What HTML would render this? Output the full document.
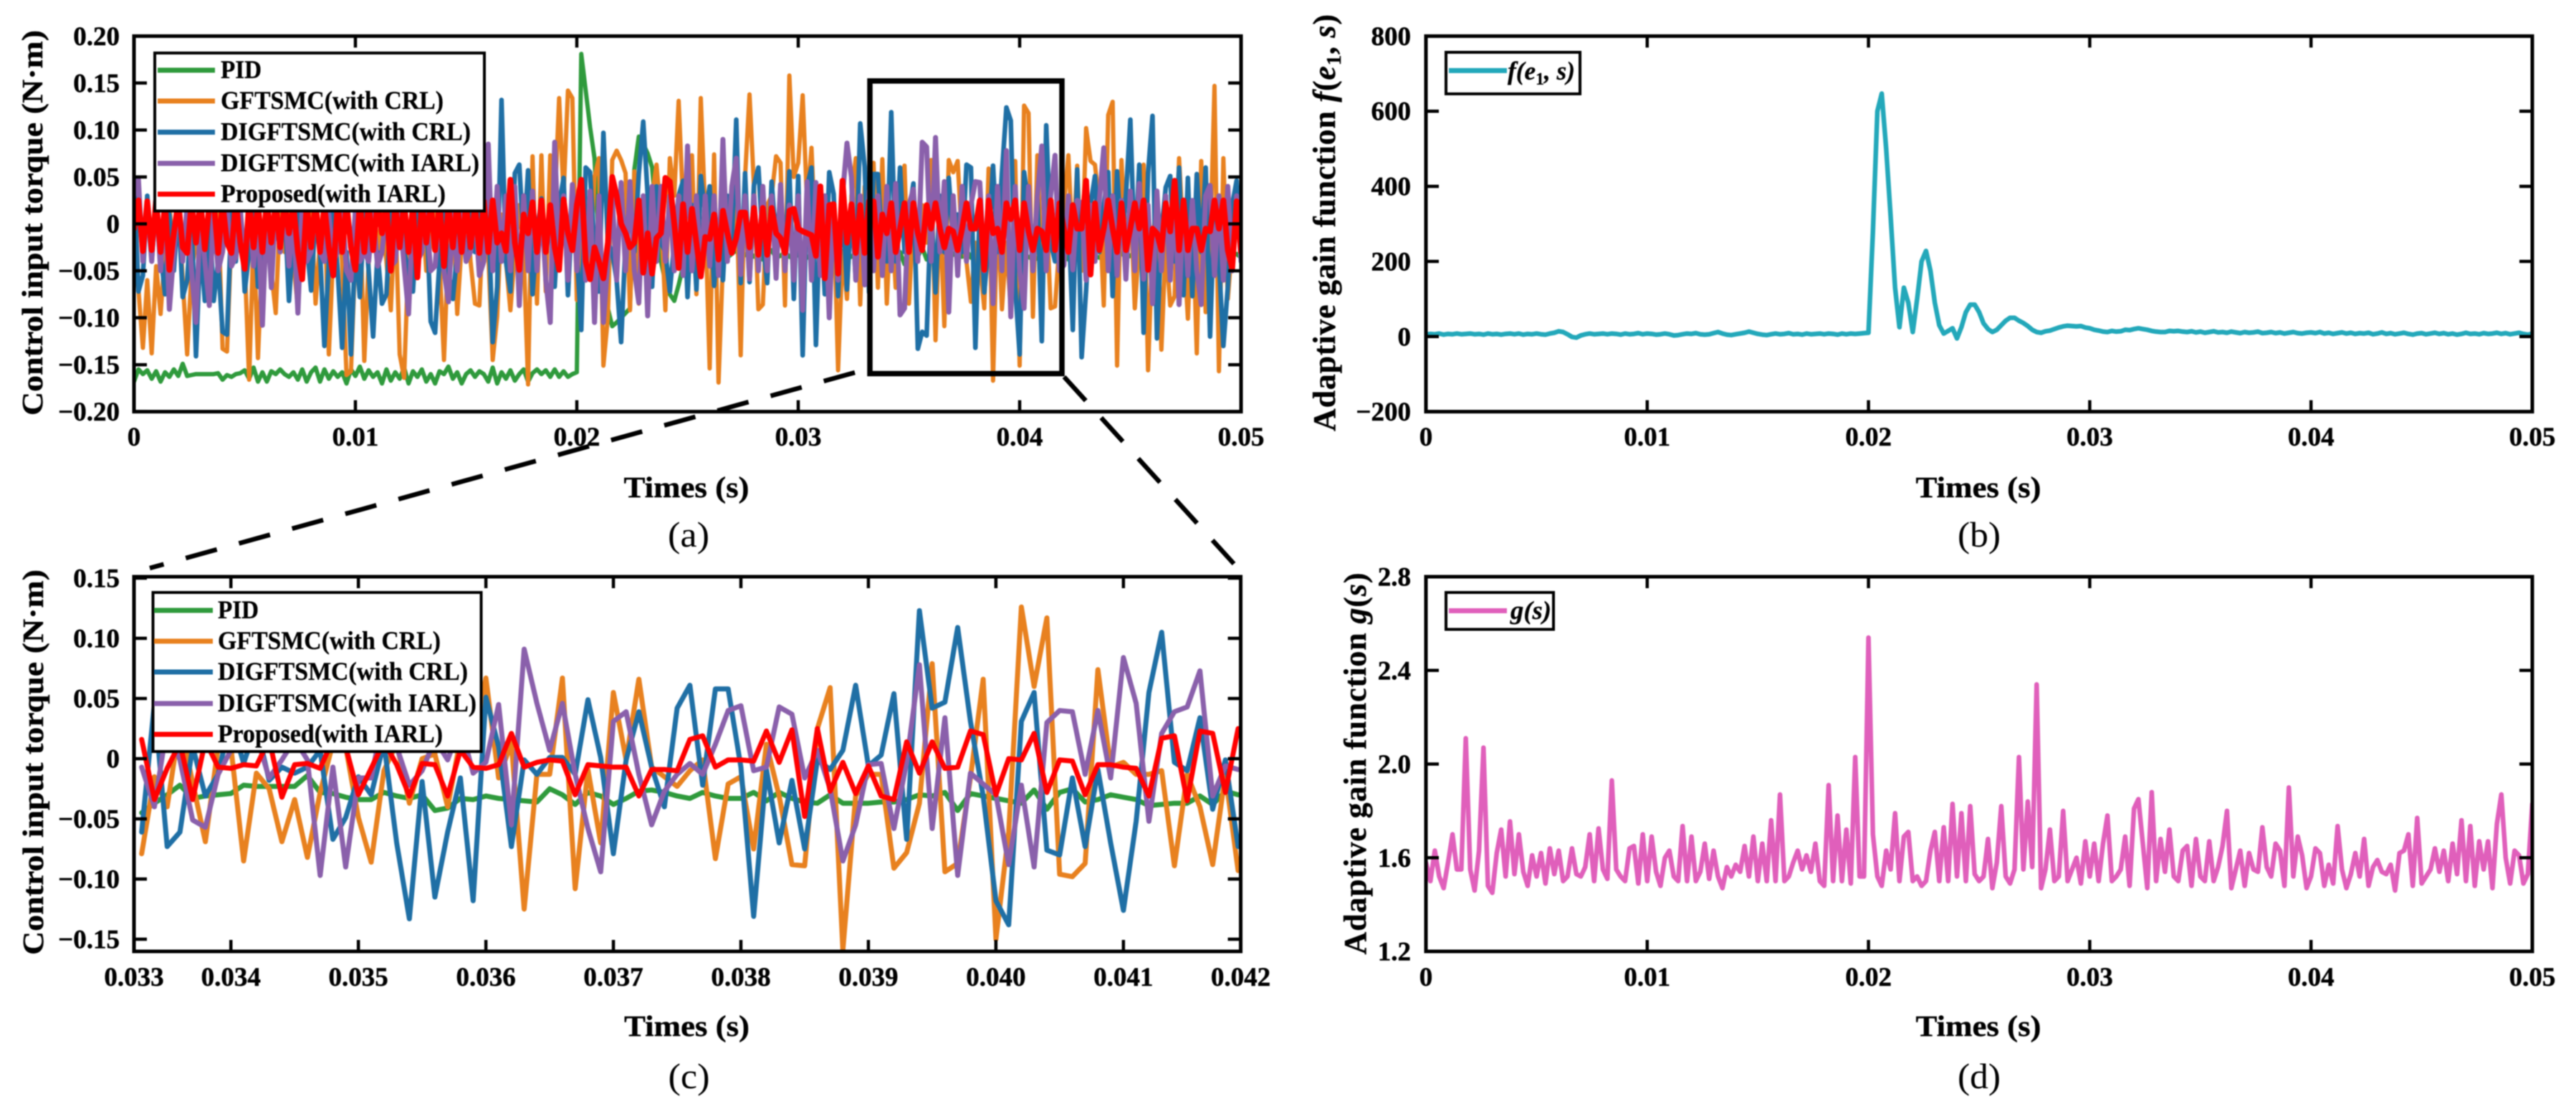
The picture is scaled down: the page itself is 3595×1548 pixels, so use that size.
<!DOCTYPE html>
<html lang="en">
<head>
<meta charset="utf-8">
<title>Control input torque and adaptive gain functions</title>
<style>
html,body{margin:0;padding:0;background:#fff;}
svg{display:block;filter:blur(.7px);}
text{font-family:"Liberation Serif","Times New Roman",serif;fill:#000;}
.b{font-weight:bold;}
.tk{font-weight:bold;font-size:37px;stroke:#000;stroke-width:.5;}
.ttl{font-weight:bold;font-size:41px;stroke:#000;stroke-width:.4;}
.ttl2{font-weight:bold;font-size:44px;stroke:#000;stroke-width:.4;}
.lg{font-weight:bold;font-size:36px;stroke:#000;stroke-width:.3;}
.cap{font-size:50px;}
.frame{fill:none;stroke:#000;stroke-width:5;}
.lbox{fill:#fff;stroke:#000;stroke-width:4;}
.s{fill:none;stroke-linejoin:round;stroke-linecap:round;}
.ll{stroke-width:7;fill:none;}
</style>
</head>
<body>
<svg id="fig" width="3595" height="1548" viewBox="0 0 3595 1548">
<defs>
<clipPath id="clip-a"><rect x="187" y="50" width="1545" height="525"/></clipPath>
<clipPath id="clip-b"><rect x="1990" y="50" width="1544" height="525"/></clipPath>
<clipPath id="clip-c"><rect x="187" y="805" width="1544.5" height="523"/></clipPath>
<clipPath id="clip-d"><rect x="1990" y="805" width="1544" height="523"/></clipPath>
</defs>

<!-- panel a -->
<g id="panel-a">
<g clip-path="url(#clip-a)">
<polyline id="a-pid" class="s" stroke="#2f9a3c" stroke-width="6"/>
<polyline id="a-gft" class="s" stroke="#e8811f" stroke-width="6"/>
<polyline id="a-crl" class="s" stroke="#1f6fa5" stroke-width="6.5"/>
<polyline id="a-iarl" class="s" stroke="#8a60ab" stroke-width="7"/>
<polyline id="a-prop" class="s" stroke="#ff0000" stroke-width="8"/>
</g>
<g id="axes-a"></g>
<rect class="frame" x="187" y="50.4" width="1545" height="524.2"/>
<text class="ttl" transform="translate(59,311) rotate(-90)" text-anchor="middle" textLength="538" lengthAdjust="spacingAndGlyphs">Control input torque (N·m)</text>
<text class="ttl" x="958" y="694" text-anchor="middle" textLength="175" lengthAdjust="spacingAndGlyphs">Times (s)</text>
<text class="cap" x="961" y="763" text-anchor="middle" textLength="58" lengthAdjust="spacingAndGlyphs">(a)</text>
<g>
<rect class="lbox" x="216" y="74" width="460" height="220.5"/>
<line class="ll" x1="220" x2="300" y1="98" y2="98" stroke="#2f9a3c"/>
<line class="ll" x1="220" x2="300" y1="141" y2="141" stroke="#e8811f"/>
<line class="ll" x1="220" x2="300" y1="184.5" y2="184.5" stroke="#1f6fa5"/>
<line class="ll" x1="220" x2="300" y1="228" y2="228" stroke="#8a60ab"/>
<line class="ll" x1="220" x2="300" y1="271" y2="271" stroke="#ff0000"/>
<text class="lg" x="308" y="109" textLength="57" lengthAdjust="spacingAndGlyphs">PID</text>
<text class="lg" x="308" y="152" textLength="311" lengthAdjust="spacingAndGlyphs">GFTSMC(with CRL)</text>
<text class="lg" x="308" y="195.5" textLength="349" lengthAdjust="spacingAndGlyphs">DIGFTSMC(with CRL)</text>
<text class="lg" x="308" y="239" textLength="361" lengthAdjust="spacingAndGlyphs">DIGFTSMC(with IARL)</text>
<text class="lg" x="308" y="282" textLength="314" lengthAdjust="spacingAndGlyphs">Proposed(with IARL)</text>
</g>
</g>

<!-- panel b -->
<g id="panel-b">
<g clip-path="url(#clip-b)"><polyline id="b-f" class="s" stroke="#23a8ba" stroke-width="6.5"/></g>
<g id="axes-b"></g>
<rect class="frame" x="1990" y="50.4" width="1544" height="524.2"/>
<text class="ttl2" transform="translate(1863,311) rotate(-90)" text-anchor="middle" textLength="582" lengthAdjust="spacing">Adaptive gain function <tspan font-style="italic">f</tspan>(<tspan font-style="italic">e</tspan><tspan font-size="29" dy="8">1</tspan><tspan dy="-8">, </tspan><tspan font-style="italic">s</tspan>)</text>
<text class="ttl" x="2761" y="694" text-anchor="middle" textLength="175" lengthAdjust="spacingAndGlyphs">Times (s)</text>
<text class="cap" x="2762" y="763" text-anchor="middle" textLength="60" lengthAdjust="spacingAndGlyphs">(b)</text>
<g>
<rect class="lbox" x="2018" y="73" width="187" height="58"/>
<line class="ll" x1="2022" x2="2103" y1="98.5" y2="98.5" stroke="#23a8ba"/>
<text class="lg" x="2104" y="111" font-style="italic" textLength="94" lengthAdjust="spacingAndGlyphs">f(e<tspan font-size="24" dy="7" font-style="normal">1</tspan><tspan dy="-7">, s)</tspan></text>
</g>
</g>

<!-- panel c -->
<g id="panel-c">
<g clip-path="url(#clip-c)">
<polyline id="c-pid" class="s" stroke="#2f9a3c" stroke-width="7"/>
<polyline id="c-gft" class="s" stroke="#e8811f" stroke-width="7"/>
<polyline id="c-crl" class="s" stroke="#1f6fa5" stroke-width="7"/>
<polyline id="c-iarl" class="s" stroke="#8a60ab" stroke-width="7"/>
<polyline id="c-prop" class="s" stroke="#ff0000" stroke-width="7"/>
</g>
<g id="axes-c"></g>
<rect class="frame" x="187" y="805" width="1544.5" height="523"/>
<text class="ttl" transform="translate(60,1064) rotate(-90)" text-anchor="middle" textLength="538" lengthAdjust="spacingAndGlyphs">Control input torque (N·m)</text>
<text class="ttl" x="958.5" y="1446" text-anchor="middle" textLength="175" lengthAdjust="spacingAndGlyphs">Times (s)</text>
<text class="cap" x="961.5" y="1519" text-anchor="middle" textLength="58" lengthAdjust="spacingAndGlyphs">(c)</text>
<g>
<rect class="lbox" x="213.5" y="827" width="458" height="222"/>
<line class="ll" x1="215" x2="297" y1="852" y2="852" stroke="#2f9a3c"/>
<line class="ll" x1="215" x2="297" y1="895" y2="895" stroke="#e8811f"/>
<line class="ll" x1="215" x2="297" y1="938" y2="938" stroke="#1f6fa5"/>
<line class="ll" x1="215" x2="297" y1="982" y2="982" stroke="#8a60ab"/>
<line class="ll" x1="215" x2="297" y1="1025" y2="1025" stroke="#ff0000"/>
<text class="lg" x="304" y="863" textLength="57" lengthAdjust="spacingAndGlyphs">PID</text>
<text class="lg" x="304" y="906" textLength="311" lengthAdjust="spacingAndGlyphs">GFTSMC(with CRL)</text>
<text class="lg" x="304" y="949" textLength="349" lengthAdjust="spacingAndGlyphs">DIGFTSMC(with CRL)</text>
<text class="lg" x="304" y="993" textLength="361" lengthAdjust="spacingAndGlyphs">DIGFTSMC(with IARL)</text>
<text class="lg" x="304" y="1036" textLength="314" lengthAdjust="spacingAndGlyphs">Proposed(with IARL)</text>
</g>
</g>

<!-- panel d -->
<g id="panel-d">
<g clip-path="url(#clip-d)"><polyline id="d-g" class="s" stroke="#e05fbb" stroke-width="6.5"/></g>
<g id="axes-d"></g>
<rect class="frame" x="1990" y="805" width="1544" height="523"/>
<text class="ttl2" transform="translate(1906,1066) rotate(-90)" text-anchor="middle" textLength="533" lengthAdjust="spacing">Adaptive gain function <tspan font-style="italic">g</tspan>(<tspan font-style="italic">s</tspan>)</text>
<text class="ttl" x="2761" y="1446" text-anchor="middle" textLength="175" lengthAdjust="spacingAndGlyphs">Times (s)</text>
<text class="cap" x="2762" y="1519" text-anchor="middle" textLength="60" lengthAdjust="spacingAndGlyphs">(d)</text>
<g>
<rect class="lbox" x="2018" y="827" width="150" height="51.5"/>
<line class="ll" x1="2022" x2="2103" y1="852.5" y2="852.5" stroke="#e05fbb"/>
<text class="lg" x="2108" y="864" font-style="italic" textLength="57" lengthAdjust="spacingAndGlyphs">g(s)</text>
</g>
</g>

<!-- zoom annotation -->
<rect x="1214" y="113" width="268" height="408.5" fill="none" stroke="#000" stroke-width="7.5"/>
<line x1="1193" y1="520" x2="209" y2="793" stroke="#000" stroke-width="6.5" stroke-dasharray="45 32"/>
<line x1="1485" y1="526" x2="1722" y2="787" stroke="#000" stroke-width="6.5" stroke-dasharray="45 32"/>
</svg>

<script>
// Panel (a): sampled every 2e-4 s, torque values in units of 0.001 N·m
const aDt = 0.0002;
const aPid = [
-168,-155,-160,-156,-165,-157,-168,-158,-163,-155,
-162,-149,-162,-161,-160,-160,-160,-160,-160,-159,
-166,-161,-163,-160,-159,-156,-165,-153,-168,-158,
-168,-157,-160,-155,-160,-163,-158,-166,-155,-168,
-158,-153,-168,-155,-165,-157,-163,-158,-170,-155,
-162,-152,-165,-156,-163,-158,-170,-155,-167,-158,
-165,-153,-170,-157,-163,-155,-168,-160,-170,-157,
-160,-152,-165,-158,-170,-160,-156,-163,-157,-160,
-168,-153,-170,-158,-165,-156,-167,-160,-155,-168,
-159,-155,-160,-156,-163,-155,-163,-157,-163,-160,
-158,181,142,103,70,-25,-60,-90,-109,-105,
-100,-95,-90,58,93,85,75,60,5,-40,
-62,-75,-82,-65,-45,-36,-35,-30,-36,-33,
-28,-38,-34,-30,-36,-32,-28,-37,-33,-30,
-35,-31,-38,-33,-28,-36,-34,-30,-35,-37,
-32,-28,-36,-33,-30,-38,-34,-31,-36,-33,
-29,-37,-35,-31,-34,-38,-32,-30,-36,-33,
-23,-28,-34,-30,-43,-33,-34,-35,-25,-38,
-33,-38,-26,-31,-34,-33,-28,-35,-28,-36,
-37,-37,-34,-31,-43,-31,-35,-26,-36,-34,
-30,-34,-35,-38,-37,-31,-30,-27,-33,-36,
-32,-38,-30,-35,-33,-37,-31,-34,-36,-30,
-38,-33,-35,-31,-36,-34,-30,-37,-33,-35,
-32,-38,-30,-34,-36,-31,-35,-33,-37,-30,
-34,-36,-31,-38,-33,-35,-30,-37,-34,-32,
-36
];
const aGftsmc = [
-30,-70,-132,-60,-138,-45,-96,-30,20,-40,
25,-60,-139,-50,-20,30,-50,10,-30,20,
-133,-136,-10,30,-20,-40,-166,-10,-143,-30,
20,-50,-95,15,-30,25,-40,-90,10,-40,
20,-85,-20,30,-139,-30,10,-40,-161,-157,
-30,20,-146,-40,25,-30,10,-40,-92,15,
-139,-164,-30,20,-40,25,-50,-20,15,-40,
-145,-20,20,-96,-20,25,-40,-85,-87,15,
-30,-145,-99,10,-40,-92,-30,20,-30,-171,
72,-85,73,-72,73,20,134,30,142,134,
-81,-30,20,-40,50,70,-151,-100,68,78,
68,54,-92,56,-85,20,-30,30,63,10,
-92,70,30,131,20,40,73,-75,134,10,
-154,74,-169,-40,30,-20,40,-140,50,138,
40,-91,-86,20,30,72,65,-87,158,50,
65,137,20,81,-30,30,-40,-20,20,-156,
-30,-80,30,70,-86,40,-70,65,-68,69,
-85,20,-68,30,62,-85,10,-30,20,-20,
68,-124,20,-109,68,55,67,-20,-40,-83,
-20,-40,-90,59,-167,20,-91,-20,-92,67,
-151,126,118,-99,73,-50,20,-90,-88,-20,
20,73,-30,62,-50,102,67,63,20,-87,
116,130,-151,68,-30,30,-90,-20,63,-156,
-20,30,-134,-20,-87,-77,70,-20,-101,20,
-138,67,-94,-30,147,-157,70,-80,-20,40,
10
];
const aDigCrl = [
48,-72,-55,30,-40,20,-30,-75,10,-50,
20,-78,-60,10,-141,-20,-82,15,-82,-40,
-115,-118,10,-40,20,-72,-30,20,-67,-30,
15,-40,10,-30,20,-82,-10,15,-40,-20,
-71,10,-30,-130,-40,15,-50,-132,-30,-139,
-20,-78,10,-50,-120,-30,-85,-75,15,-40,
20,-30,-50,-72,10,-30,20,-104,-116,-40,
10,-50,-80,-30,15,-40,10,-30,20,-40,
15,-126,-67,132,-40,-72,54,63,-20,57,
-75,-10,27,-30,10,-67,20,49,-76,20,
-30,-113,60,55,-30,-72,97,-20,-30,-60,
-126,-20,30,-30,53,109,30,-67,40,-20,
-30,-72,-20,30,46,-78,20,-70,51,10,
40,-66,-10,-60,30,-20,111,-63,54,-62,
41,60,-20,-63,45,-20,30,-40,56,-80,
51,-140,40,60,-129,20,-75,55,32,-77,
30,-70,20,-60,107,61,-73,53,53,-30,
-40,119,-40,60,-30,10,43,-133,-115,-119,
20,-73,30,-30,49,-20,10,-30,63,60,
-132,20,-73,-20,62,-30,54,124,110,-67,
-139,55,20,-50,30,-125,105,-20,-40,20,
-30,10,-113,58,-142,-71,20,51,-30,20,
55,-77,56,-20,30,111,-40,63,-116,54,
115,-122,-10,39,51,-40,60,-76,49,-77,
53,-30,60,-120,20,-40,-130,-67,20,46,
-40
];
const aDigIarl = [
30,47,-40,20,-40,30,-50,25,-91,-30,
30,-40,20,-50,-105,10,-40,-87,15,-50,
-30,20,-45,-35,15,-40,20,-45,10,-108,
15,-68,20,-30,20,-45,10,-95,20,-40,
-30,15,-30,-40,10,-40,-30,15,-50,-60,
15,-40,-30,-40,10,-45,-30,15,-45,-40,
10,-45,-96,15,-40,-30,10,-50,-45,15,
-50,-83,10,-50,15,-40,-30,15,-55,-40,
85,-50,40,-40,30,-50,40,-87,30,-50,
35,-50,20,-60,-105,87,-40,30,-60,42,
-50,30,-60,35,-105,30,-105,-40,30,-60,
44,-50,45,-50,-84,30,-98,40,-40,40,
-40,30,-50,30,-55,83,-50,30,-55,30,
-45,30,-55,90,-40,40,70,-54,30,-59,
30,-50,40,-50,30,-58,42,-50,20,-60,
30,-92,45,-60,44,-55,30,-100,20,-60,
30,86,50,-60,30,-65,35,-50,30,-55,
40,-50,43,-97,-90,20,37,-40,87,82,
-40,92,-30,45,-94,30,-55,40,-40,20,
45,44,-50,30,-85,40,-50,78,-99,40,
-50,-90,40,-50,30,83,-50,30,73,-50,
-44,30,-49,25,22,-60,20,-40,25,81,
-50,30,-55,25,-59,35,-50,43,-59,20,
-85,35,-50,30,-60,30,-86,25,-55,25,
-50,-86,30,41,-55,30,-60,40,-50,30,
-40
];
const aProposed = [
-5,25,-29,24,-28,25,-30,22,-49,-10,
24,-25,-31,23,-20,25,-27,20,25,-31,
22,-20,-31,25,-20,-48,24,-25,22,-30,
25,-20,23,-25,22,-10,20,-30,-59,22,
-25,24,-30,20,-25,-55,24,-30,22,-25,
-49,25,-30,22,-28,24,-10,20,-50,22,
-25,24,-30,20,-57,25,-20,22,-28,24,
-45,20,-25,24,-30,22,-25,20,-31,24,
-30,25,-20,-10,-29,47,-20,-49,10,-10,
23,-30,25,-30,20,-25,-49,26,-10,-28,
20,47,-40,-59,-25,-40,-58,-20,50,30,
0,-10,-25,-20,25,-52,-10,-53,-15,-10,
49,45,0,-47,21,-30,16,-20,-56,-14,
-16,10,-38,14,-10,-31,-15,12,12,-25,
17,-33,17,-33,17,-10,-15,-31,14,16,
-5,-8,-10,-12,-34,40,-58,20,21,-53,
46,-20,21,-31,20,-31,24,24,-35,10,
-10,22,-30,-5,22,-30,22,-10,-28,20,
-5,22,-5,-25,-5,-8,-28,-5,22,-5,
-5,25,-49,25,-10,-5,-30,22,5,25,
-28,22,-8,-28,-5,-8,-28,25,-28,22,
-5,-30,20,-5,-5,46,-54,22,-28,-5,
25,-5,-30,22,-28,-5,22,-5,25,-49,
-5,-10,-28,22,-8,46,-28,25,-28,-5,
-5,-28,-5,-8,25,-5,25,-28,-48,24,
-30
];
const aXDomain = [0, 0.05];
const aYDomain = [-200, 200];
const aYTicks = [200,150,100,50,0,-50,-100,-150,-200];
const aYLabels = ["0.20","0.15","0.10","0.05","0","\u22120.05","\u22120.10","\u22120.15","\u22120.20"];
const sharedXTicks = [0,0.01,0.02,0.03,0.04,0.05];
const sharedXLabels = ["0","0.01","0.02","0.03","0.04","0.05"];

// Panel (b): adaptive gain f(e1,s), sampled every 2e-4 s
const bDt = 0.0002;
const bF = [
5,7,6,8,5,7,6,8,6,7,
8,6,7,5,8,6,7,5,7,8,
6,8,5,7,6,8,6,5,8,10,
14,12,6,-1,-3,3,6,8,6,7,
8,6,8,7,5,8,6,7,9,6,
8,7,5,6,8,6,3,4,6,8,
7,9,6,5,6,9,12,8,5,4,
6,8,10,13,10,7,5,4,6,8,
6,7,9,6,7,5,8,6,7,8,
6,8,7,5,8,6,8,7,8,9,
10,280,600,647,500,320,130,25,130,90,
12,100,200,228,175,90,30,8,15,22,
-5,25,65,85,85,65,35,20,12,18,
30,42,50,50,42,36,28,18,12,10,
14,16,20,24,27,29,28,27,28,24,
22,18,16,13,12,15,13,14,18,17,
20,22,20,18,15,13,12,12,15,14,
15,13,12,14,11,13,10,12,14,11,
12,10,13,11,9,12,10,11,13,9,
10,12,9,11,8,10,12,9,8,10,
11,9,12,8,10,7,9,11,8,10,
7,9,8,10,6,8,11,7,9,6,
8,10,7,5,8,9,6,8,10,7,
9,6,8,5,7,10,7,8,6,9,
7,8,10,7,9,6,8,10,7,5,
8
];
const bXDomain = [0, 0.05];
const bYDomain = [-200, 800];
const bYTicks = [800,600,400,200,0,-200];
const bYLabels = ["800","600","400","200","0","\u2212200"];

// Panel (c): detail window, sampled every 1e-4 s from t = 0.0333, units of 0.001 N·m
const cStart = 0.0333;
const cDt = 0.0001;
const cPid = [
-45,-37,-30,-22,-33,-31,-30,-29,-22,-23,
-23,-23,-23,-14,-28,-29,-32,-34,-34,-28,
-31,-33,-30,-43,-41,-33,-34,-31,-33,-34,
-35,-36,-25,-30,-38,-28,-31,-38,-33,-27,
-26,-28,-31,-33,-28,-31,-33,-33,-28,-35,
-28,-33,-36,-37,-30,-37,-37,-37,-36,-36,
-34,-30,-31,-28,-43,-29,-31,-33,-35,-37,
-26,-42,-28,-25,-36,-34,-30,-32,-34,-39,
-38,-37,-37,-31,-38,-27,-30
];
const cGftsmc = [
-79,-15,-40,30,-20,-69,10,10,-85,-12,
-25,-69,-34,-82,-28,13,10,-49,-86,-10,
13,-37,0,4,-40,16,10,67,-16,13,
-125,-13,-13,67,-108,-9,-70,55,-1,66,
-7,-15,-23,-10,-1,-83,-21,-15,-75,12,
-31,-88,-89,25,59,-159,-31,-13,-13,-91,
-78,-37,79,-94,-87,-16,66,-150,-61,126,
60,117,-96,-98,-87,74,-7,-3,-13,-13,
-10,-89,-13,-40,-88,-13,-93
];
const cDigCrl = [
-61,46,-73,-61,10,-31,-13,34,-4,28,
-18,-7,-12,-7,7,-67,-49,-15,-30,13,
-70,-133,-19,-115,-61,-16,-118,51,10,-73,
-1,-13,1,1,-13,49,1,-79,-1,39,
-7,-40,42,61,-22,58,58,-7,-131,-9,
-70,-18,-75,-1,-9,7,61,-6,3,54,
-67,123,42,47,109,31,-31,-118,-138,31,
55,-76,-80,-16,-73,-9,-70,-126,-52,55,
105,-3,-10,34,-42,-1,-73
];
const cDigIarl = [
-7,-40,28,-1,-51,-57,-13,7,28,19,
-16,-1,16,-1,-97,-7,-90,-16,-16,37,
10,-22,-10,16,-1,28,-12,-3,45,-55,
91,46,7,46,-13,-58,-94,31,39,-13,
-55,-27,-13,-4,-13,12,40,44,-10,-7,
43,37,-16,7,-25,-85,-55,-5,-4,-58,
-3,78,-58,34,-97,-12,-21,-30,-88,-22,
-90,30,40,39,-13,40,-16,84,46,-52,
21,39,43,73,-31,-6,-9
];
const cProposed = [
16,-34,-8,13,-34,15,-7,-8,-5,-6,
16,-32,-5,-4,-8,16,10,-30,-8,14,
-5,-31,-4,-5,-31,7,-7,-8,-5,21,
-7,-3,-1,-2,-30,-5,-6,-7,-7,-31,
-9,-9,-10,16,19,-7,-1,-1,-2,23,
-3,24,-48,25,-27,-3,-29,-6,-31,-34,
14,-12,14,-8,-7,23,20,-30,0,-1,
21,-28,-1,-2,-30,-5,-5,-7,-8,-31,
17,19,-35,23,21,-28,25
];
const cXDomain = [0.03324, 0.04192];
const cYDomain = [-160.1, 151.2];
const cXTicks = [0.03324,0.034,0.035,0.036,0.037,0.038,0.039,0.040,0.041,0.04192];
const cXLabels = ["0.033","0.034","0.035","0.036","0.037","0.038","0.039","0.040","0.041","0.042"];
const cYTicks = [150,100,50,0,-50,-100,-150];
const cYLabels = ["0.15","0.10","0.05","0","\u22120.05","\u22120.10","\u22120.15"];

// Panel (d): adaptive gain g(s), sampled every 2e-4 s
const dDt = 0.0002;
const dG = [
1.58,1.50,1.63,1.52,1.47,1.58,1.70,1.55,1.55,2.11,
1.55,1.46,1.63,2.07,1.48,1.45,1.62,1.72,1.52,1.755,
1.53,1.70,1.54,1.48,1.61,1.52,1.62,1.49,1.64,1.53,
1.63,1.50,1.52,1.64,1.53,1.52,1.56,1.70,1.50,1.725,
1.55,1.51,1.93,1.55,1.52,1.50,1.64,1.65,1.49,1.70,
1.50,1.69,1.54,1.48,1.60,1.63,1.52,1.50,1.735,1.50,
1.69,1.50,1.54,1.66,1.51,1.63,1.52,1.47,1.56,1.52,
1.57,1.54,1.65,1.52,1.69,1.50,1.66,1.50,1.76,1.50,
1.87,1.50,1.52,1.58,1.63,1.55,1.61,1.54,1.66,1.50,
1.48,1.91,1.50,1.78,1.50,1.72,1.49,2.03,1.52,1.52,
2.54,1.70,1.52,1.48,1.63,1.55,1.79,1.50,1.69,1.71,
1.50,1.52,1.48,1.50,1.63,1.71,1.50,1.73,1.50,1.83,
1.52,1.79,1.50,1.82,1.53,1.50,1.52,1.68,1.47,1.58,
1.82,1.52,1.49,1.55,2.03,1.55,1.84,1.56,2.34,1.47,
1.55,1.72,1.50,1.52,1.80,1.50,1.55,1.60,1.49,1.67,
1.52,1.66,1.50,1.66,1.78,1.50,1.52,1.55,1.69,1.48,
1.81,1.85,1.66,1.47,1.88,1.50,1.68,1.54,1.72,1.52,
1.50,1.63,1.65,1.48,1.68,1.52,1.50,1.67,1.50,1.56,
1.65,1.80,1.47,1.55,1.63,1.48,1.62,1.55,1.54,1.73,
1.56,1.52,1.66,1.63,1.48,1.90,1.52,1.69,1.61,1.47,
1.52,1.64,1.62,1.48,1.57,1.49,1.735,1.55,1.47,1.53,
1.62,1.52,1.68,1.48,1.56,1.59,1.54,1.53,1.57,1.46,
1.62,1.63,1.70,1.48,1.77,1.49,1.52,1.55,1.64,1.54,
1.63,1.50,1.66,1.53,1.76,1.50,1.735,1.48,1.67,1.55,
1.67,1.47,1.745,1.87,1.60,1.49,1.63,1.61,1.49,1.53,
1.83
];
const dXDomain = [0, 0.05];
const dYDomain = [1.2, 2.8];
const dYTicks = [2.8,2.4,2.0,1.6,1.2];
const dYLabels = ["2.8","2.4","2.0","1.6","1.2"];

const SVGNS = 'http://www.w3.org/2000/svg';

function linear(domain, range) {
  return function (v) {
    return range[0] + (v - domain[0]) / (domain[1] - domain[0]) * (range[1] - range[0]);
  };
}

function plot(id, values, start, dt, sx, sy) {
  const pts = values.map(function (v, i) {
    return sx(start + i * dt).toFixed(1) + ',' + sy(v).toFixed(1);
  });
  document.getElementById(id).setAttribute('points', pts.join(' '));
}

function drawAxes(groupId, box, sx, sy, xTicks, xLabels, yTicks, yLabels, xLabelY, yLabelX) {
  const g = document.getElementById(groupId);
  const TICK = 16;
  xTicks.forEach(function (t, i) {
    const x = sx(t);
    [[box.bottom, box.bottom - TICK], [box.top, box.top + TICK]].forEach(function (p) {
      const tick = document.createElementNS(SVGNS, 'line');
      
      
      tick.setAttribute('x1', x);
      tick.setAttribute('x2', x);
      tick.setAttribute('y1', p[0]);
      tick.setAttribute('y2', p[1]);
      tick.setAttribute('stroke', '#000');
      tick.setAttribute('stroke-width', '4.5');
      g.appendChild(tick);
    });
    const label = document.createElementNS(SVGNS, 'text');
    
    
    label.setAttribute('class', 'tk');
    label.setAttribute('x', x);
    label.setAttribute('y', xLabelY);
    label.setAttribute('text-anchor', 'middle');
    label.textContent = xLabels[i];
    g.appendChild(label);
  });
  yTicks.forEach(function (v, i) {
    const y = sy(v);
    [[box.left, box.left + TICK + 2], [box.right, box.right - TICK - 2]].forEach(function (p) {
      const tick = document.createElementNS(SVGNS, 'line');
      
      
      tick.setAttribute('x1', p[0]);
      tick.setAttribute('x2', p[1]);
      tick.setAttribute('y1', y);
      tick.setAttribute('y2', y);
      tick.setAttribute('stroke', '#000');
      tick.setAttribute('stroke-width', '4.5');
      g.appendChild(tick);
    });
    const label = document.createElementNS(SVGNS, 'text');
    
    
    label.setAttribute('class', 'tk');
    label.setAttribute('x', yLabelX);
    label.setAttribute('y', y + 12.5);
    label.setAttribute('text-anchor', 'end');
    label.textContent = yLabels[i];
    g.appendChild(label);
  });
}

// Panel a
const aBox = {left: 187, right: 1732, top: 50.4, bottom: 574.6};
const aX = linear(aXDomain, [aBox.left, aBox.right]);
const aY = linear(aYDomain, [aBox.bottom, aBox.top]);
plot('a-pid', aPid, 0, aDt, aX, aY);
plot('a-gft', aGftsmc, 0, aDt, aX, aY);
plot('a-crl', aDigCrl, 0, aDt, aX, aY);
plot('a-iarl', aDigIarl, 0, aDt, aX, aY);
plot('a-prop', aProposed, 0, aDt, aX, aY);
drawAxes('axes-a', aBox, aX, aY, sharedXTicks, sharedXLabels, aYTicks, aYLabels, 622, 167);

// Panel b
const bBox = {left: 1990, right: 3534, top: 50.4, bottom: 574.6};
const bX = linear(bXDomain, [bBox.left, bBox.right]);
const bY = linear(bYDomain, [bBox.bottom, bBox.top]);
plot('b-f', bF, 0, bDt, bX, bY);
drawAxes('axes-b', bBox, bX, bY, sharedXTicks, sharedXLabels, bYTicks, bYLabels, 622, 1969);

// Panel c
const cBox = {left: 187, right: 1731.5, top: 805, bottom: 1328};
const cX = linear(cXDomain, [cBox.left, cBox.right]);
const cY = linear(cYDomain, [cBox.bottom, cBox.top]);
plot('c-pid', cPid, cStart, cDt, cX, cY);
plot('c-gft', cGftsmc, cStart, cDt, cX, cY);
plot('c-crl', cDigCrl, cStart, cDt, cX, cY);
plot('c-iarl', cDigIarl, cStart, cDt, cX, cY);
plot('c-prop', cProposed, cStart, cDt, cX, cY);
drawAxes('axes-c', cBox, cX, cY, cXTicks, cXLabels, cYTicks, cYLabels, 1376, 167);

// Panel d
const dBox = {left: 1990, right: 3534, top: 805, bottom: 1328};
const dX = linear(dXDomain, [dBox.left, dBox.right]);
const dY = linear(dYDomain, [dBox.bottom, dBox.top]);
plot('d-g', dG, 0, dDt, dX, dY);
drawAxes('axes-d', dBox, dX, dY, sharedXTicks, sharedXLabels, dYTicks, dYLabels, 1376, 1969);
</script>
</body>
</html>
